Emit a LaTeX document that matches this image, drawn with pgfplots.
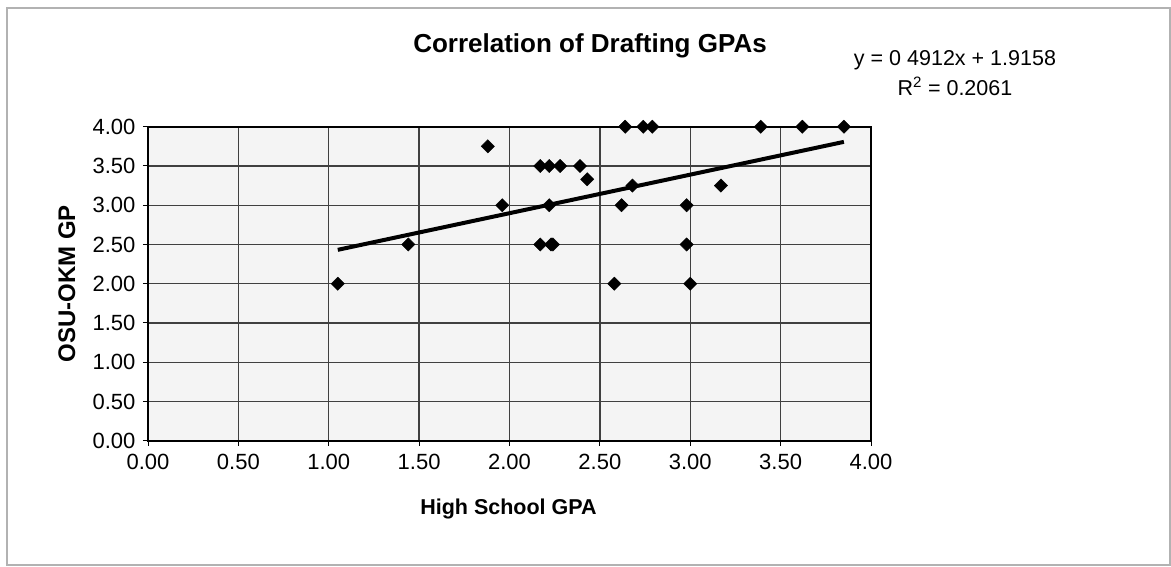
\documentclass[border=0pt]{standalone}
\usepackage{fontspec}
\setmainfont{Liberation Sans}
\usepackage{pgfplots}
\pgfplotsset{compat=1.18}
\begin{document}
\begin{tikzpicture}[x=1pt,y=1pt]
\useasboundingbox (0,0) rectangle (1171,-566);
\draw[gray!60, line width=1.5pt] (7,-8) rectangle (1170,-565);
\begin{axis}[
  at={(148pt,-440.7pt)}, anchor=south west,
  scale only axis, width=723pt, height=314pt,
  xmin=0, xmax=4, ymin=0, ymax=4,
  xtick={0,0.5,...,4}, ytick={0,0.5,...,4},
  grid=major,
  major grid style={black!75, line width=1.3pt},
  axis line style={black, line width=1.8pt},
  tick style={black, line width=1pt},
  tick align=outside, major tick length=5pt,
  tick pos=left,
  axis background/.style={fill=gray!9},
  ticklabel style={font=\fontsize{22}{25}\selectfont},
  xticklabel style={yshift=-5pt},
  yticklabel style={xshift=-4pt},
  /pgf/number format/fixed,
  /pgf/number format/fixed zerofill,
  /pgf/number format/precision=2,
  /pgf/number format/assume math mode=true,
  clip=false,
]
\addplot[only marks, mark=square*, mark size=4.7pt,
  mark options={fill=black, draw=black, rotate=45}] coordinates {
  (1.05,2.00) (1.44,2.50) (1.88,3.75) (1.96,3.00)
  (2.17,3.50) (2.22,3.50) (2.28,3.50) (2.39,3.50)
  (2.43,3.33) (2.22,3.00)
  (2.17,2.50) (2.23,2.50) (2.24,2.50)
  (2.58,2.00) (2.62,3.00) (2.68,3.25)
  (2.64,4.00) (2.74,4.00) (2.79,4.00)
  (2.98,3.00) (2.98,2.50) (3.00,2.00)
  (3.17,3.25)
  (3.39,4.00) (3.62,4.00) (3.85,4.00)
};
\addplot[black, line width=4pt] coordinates {(1.05,2.4316) (3.85,3.8069)};
\end{axis}
\node[anchor=base, font=\bfseries\fontsize{26}{30}\selectfont] at (590,-52.7) {Correlation of Drafting GPAs};
\node[anchor=base, font=\fontsize{21.5}{24}\selectfont] at (955,-65) {y = 0 4912x + 1.9158};
\node[anchor=base, font=\fontsize{21.5}{24}\selectfont] at (955,-95) {R\textsuperscript{2} = 0.2061};
\node[anchor=base, font=\bfseries\fontsize{21.5}{24}\selectfont] at (508.5,-514) {High School GPA};
\node[anchor=base, rotate=90, font=\bfseries\fontsize{24}{28}\selectfont] at (75,-283.7) {OSU-OKM GP};
\end{tikzpicture}
\end{document}
